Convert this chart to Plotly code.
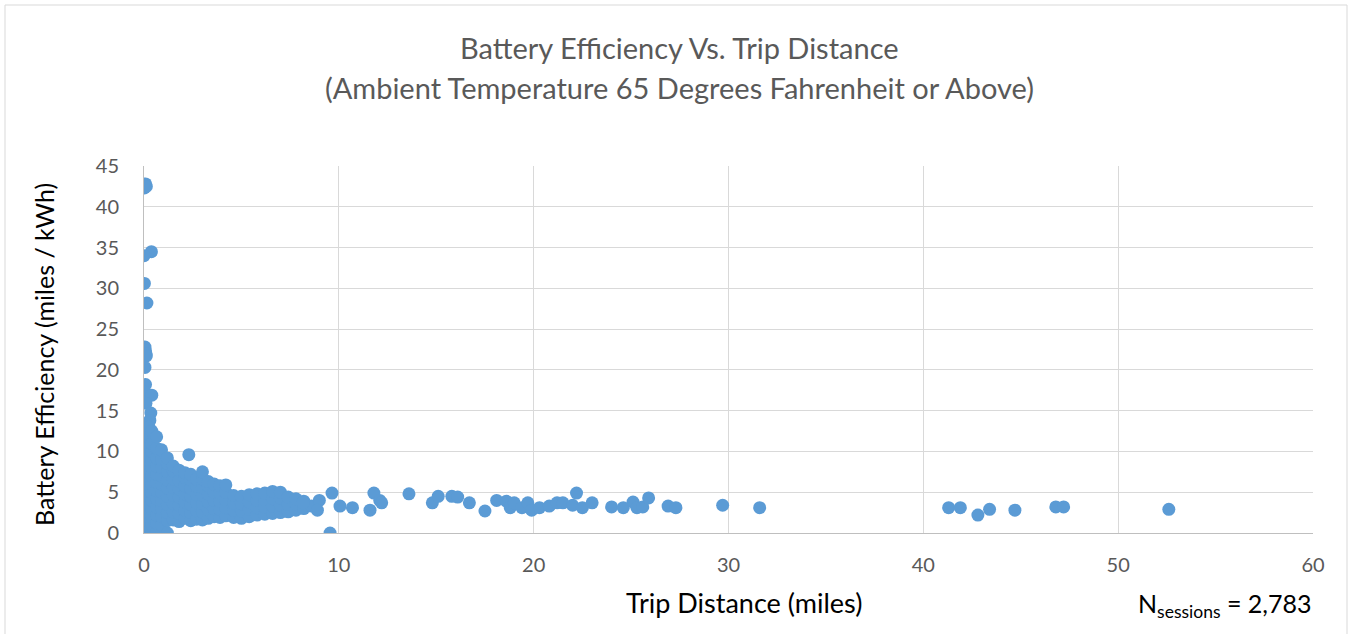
import plotly.graph_objects as go

# Trip distance (miles) / battery efficiency (miles per kWh)

# sessions with very short trips and very high efficiency
spike_miles = [0.02, 0.08, 0.12, 0.38, 0.00, 0.02, 0.15, 0.05, 0.07, 0.10,
               0.12, 0.05, 0.08, 0.02, 0.40, 0.10, 0.35, 0.30, 0.25]
spike_eff = [42.3, 42.8, 42.5, 34.5, 34.0, 30.6, 28.2, 22.8, 22.4, 22.0,
             21.7, 20.3, 18.2, 17.3, 16.9, 15.9, 14.7, 13.8, 13.0]

# the dense cluster under 9 miles
cluster_miles = (
    [0.05] * 12 + [0.2] * 12 + [0.4] * 13 + [0.65] * 12 + [0.9] * 11
    + [1.2] * 10 + [1.5] * 8 + [1.8] * 7 + [2.1] * 7 + [2.3] + [2.4] * 7
    + [2.7] * 6 + [3.0] * 7 + [3.3] * 6 + [3.6] * 5 + [3.9] * 5 + [4.2] * 5
    + [4.6] * 4 + [5.0] * 4 + [5.4] * 4 + [5.8] * 4 + [6.2] * 4 + [6.6] * 4
    + [7.0] * 4 + [7.4] * 3 + [7.8] * 3 + [8.2] * 2 + [8.6]
)
cluster_eff = [
    0.0, 1.0, 2.0, 3.0, 4.0, 5.0, 6.0, 7.0, 8.0, 9.0, 10.0, 11.5,
    0.3, 1.5, 2.5, 3.5, 4.5, 5.5, 6.5, 7.5, 8.5, 9.5, 10.5, 12.2,
    0.0, 1.0, 2.0, 3.0, 4.0, 5.0, 6.0, 7.0, 8.0, 9.0, 10.0, 11.0, 12.5,
    0.1, 1.2, 2.2, 3.2, 4.2, 5.2, 6.2, 7.2, 8.2, 9.2, 10.4, 11.8,
    0.0, 1.0, 2.0, 3.0, 4.0, 5.0, 6.0, 7.0, 8.0, 9.0, 10.2,
    0.0, 1.5, 2.5, 3.5, 4.5, 5.5, 6.5, 7.5, 8.5, 9.2,
    1.6, 2.6, 3.6, 4.6, 5.6, 6.6, 7.6, 8.2,
    1.4, 2.4, 3.4, 4.4, 5.4, 6.4, 7.7,
    1.8, 2.8, 3.8, 4.8, 5.8, 6.8, 7.4,
    9.6,
    1.5, 2.5, 3.5, 4.5, 5.5, 6.5, 7.2,
    1.7, 2.7, 3.7, 4.7, 5.7, 6.6,
    1.6, 2.6, 3.6, 4.6, 5.6, 6.6, 7.5,
    1.8, 2.8, 3.8, 4.8, 5.8, 6.3,
    2.0, 3.0, 4.0, 5.0, 6.0,
    1.9, 2.9, 3.9, 4.9, 5.8,
    2.1, 3.1, 4.1, 5.0, 5.9,
    1.9, 2.8, 3.7, 4.6,
    1.8, 2.7, 3.6, 4.5,
    2.0, 2.9, 3.8, 4.7,
    2.2, 3.1, 4.0, 4.8,
    2.3, 3.2, 4.1, 4.9,
    2.4, 3.3, 4.2, 5.1,
    2.5, 3.4, 4.3, 5.0,
    2.6, 3.5, 4.4,
    2.8, 3.6, 4.2,
    3.0, 3.9,
    3.3,
]

# longer trips
tail_miles = [8.16, 9.0, 8.9, 9.65, 9.55, 10.06, 10.7, 11.6, 11.8, 12.1,
              12.2, 13.6, 14.8, 15.1, 15.8, 16.1, 16.7, 17.5, 18.1, 18.6,
              18.8, 19.0, 19.4, 19.7, 19.9, 20.3, 20.8, 21.2, 21.5, 22.0,
              22.2, 22.5, 23.0, 24.0, 24.6, 25.1, 25.3, 25.6, 25.9, 26.9,
              27.3, 29.7, 31.6, 41.3, 41.9, 42.8, 43.4, 44.7, 46.8, 47.2,
              52.6]
tail_eff = [3.7, 4.0, 2.8, 4.9, 0.0, 3.3, 3.1, 2.8, 4.9, 4.0,
            3.7, 4.8, 3.7, 4.5, 4.5, 4.4, 3.7, 2.7, 4.0, 3.9,
            3.1, 3.7, 3.1, 3.7, 2.8, 3.1, 3.3, 3.7, 3.7, 3.4,
            4.9, 3.1, 3.7, 3.2, 3.1, 3.8, 3.1, 3.2, 4.3, 3.3,
            3.1, 3.4, 3.1, 3.1, 3.1, 2.2, 2.9, 2.8, 3.2, 3.2,
            2.9]

x_ticks = [0, 10, 20, 30, 40, 50, 60]
y_ticks = [0, 5, 10, 15, 20, 25, 30, 35, 40, 45]

miles = spike_miles + cluster_miles + tail_miles
eff = spike_eff + cluster_eff + tail_eff

fig = go.Figure()
fig.add_trace(go.Scatter(x=miles, y=eff, mode='markers',
                         marker=dict(color='#5B9BD5', size=13, line=dict(width=0)),
                         hoverinfo='x+y'))

font_name = 'Lato, Open Sans, sans-serif'
grid = '#D9D9D9'

fig.update_layout(
    width=1352, height=634,
    margin=dict(l=144, r=39, t=166, b=101),
    paper_bgcolor='white', plot_bgcolor='white',
    showlegend=False,
    font=dict(family=font_name, color='#595959'),
)
fig.update_xaxes(range=[0, 60], tickvals=x_ticks, showgrid=True, gridcolor=grid,
                 gridwidth=1, zeroline=False, showline=True, linecolor='#BFBFBF',
                 linewidth=1, ticks='', ticklabelstandoff=14,
                 tickfont=dict(size=20, color='#595959'))
fig.update_yaxes(range=[0, 45], tickvals=y_ticks, showgrid=True, gridcolor=grid,
                 gridwidth=1, zeroline=False, showline=True, linecolor='#BFBFBF',
                 linewidth=1, ticks='', ticklabelstandoff=20,
                 tickfont=dict(size=20, color='#595959'))


def px_x(px):
    return (px - 144) / 1169


def px_y(py):
    return (533 - py) / 367


# titles as annotations so they sit where Excel put them
titles = [
    ('Battery Efficiency Vs. Trip Distance', 679, 47, 29, '#595959', 0),
    ('(Ambient Temperature 65 Degrees Fahrenheit or Above)', 679, 87, 29, '#595959', 0),
    ('Trip Distance (miles)', 744, 602, 27, '#000000', 0),
    ('Battery Efficiency (miles / kWh)', 44, 355, 25, '#000000', -90),
    ('N<sub>sessions</sub> = 2,783', 1225, 605, 25, '#000000', 0),
]
for text, tx, ty, size, color, angle in titles:
    fig.add_annotation(text=text, xref='paper', yref='paper', x=px_x(tx), y=px_y(ty),
                       xanchor='center', yanchor='middle', showarrow=False,
                       textangle=angle, font=dict(size=size, color=color))

# chart area border
fig.add_shape(type='rect', xref='paper', yref='paper',
              x0=px_x(5), x1=px_x(1347), y0=px_y(660), y1=px_y(5),
              line=dict(color='#D9D9D9', width=1), layer='below')

fig.write_html("out.html", config={'displayModeBar': False},
               post_script="document.body.style.margin='0';")
